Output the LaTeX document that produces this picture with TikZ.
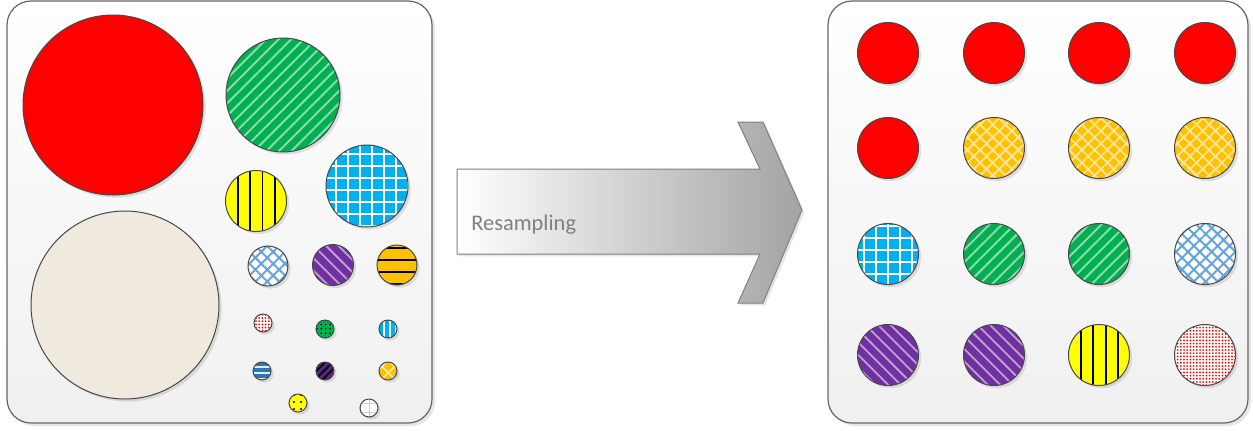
\documentclass[tikz,border=0pt]{standalone}
\usepackage{fontspec}
\usetikzlibrary{shadows,patterns.meta}
\newfontfamily\labelfont{Carlito}
\definecolor{rsred}{HTML}{FF0000}
\definecolor{rsbeige}{HTML}{EFEADD}
\definecolor{rsgreen}{HTML}{00B050}
\definecolor{rscyan}{HTML}{00B0F0}
\definecolor{rsyellow}{HTML}{FFFF00}
\definecolor{rspurple}{HTML}{7030A0}
\definecolor{rsorange}{HTML}{FFC000}
\definecolor{rsblue}{HTML}{2E75B6}
\definecolor{rshatch}{HTML}{3B8ED8}
\tikzset{
  ball/.style={circle,inner sep=0pt,minimum size=#1,draw=black!72,line width=.5pt,
    drop shadow={shadow xshift=1.3pt,shadow yshift=-1.3pt,opacity=.25,fill=black!45}},
  panel/.style={rounded corners=12pt,draw=black!60,line width=.6pt,top color=white,bottom color=black!6,
    drop shadow={shadow xshift=1.5pt,shadow yshift=-1.5pt,opacity=.2,fill=black!50}},
  redball/.style={fill=rsred},
  greenstripe/.style={preaction={fill=rsgreen},pattern={Lines[angle=45,distance=4.4pt,line width=1pt]},pattern color=rsgreen!45!white},
  cyangrid/.style={preaction={fill=rscyan},pattern={Hatch[distance=6pt,line width=.8pt]},pattern color=white},
  yellowbar/.style={preaction={fill=rsyellow},pattern={Lines[angle=90,distance=6.2pt,line width=.9pt,xshift=1pt]},pattern color=black},
  orangebar/.style={preaction={fill=rsorange},pattern={Lines[angle=0,distance=6pt,line width=.9pt,yshift=1pt]},pattern color=black},
  purplestripe/.style={preaction={fill=rspurple},pattern={Lines[angle=-45,distance=4.4pt,line width=.9pt]},pattern color=rspurple!45!white},
  bluehatch/.style={preaction={fill=white},pattern={Hatch[angle=45,distance=4.2pt,line width=1pt]},pattern color=rshatch!80!white},
  orangehatch/.style={preaction={fill=rsorange},pattern={Hatch[angle=45,distance=4.5pt,line width=.9pt]},pattern color=rsorange!40!white},
  pinkdots/.style={preaction={fill=white},pattern={Dots[radius=.5pt,distance=1.6pt]},pattern color=rsred},
  greendots/.style={preaction={fill=rsgreen},pattern={Dots[radius=.45pt,distance=2.2pt]},pattern color=black},
  cyanbar/.style={preaction={fill=rscyan},pattern={Lines[angle=90,distance=3pt,line width=.8pt]},pattern color=white},
  bluebar/.style={preaction={fill=rsblue},pattern={Lines[angle=0,distance=3pt,line width=.6pt,yshift=1.5pt]},pattern color=white!85!rsblue},
  darkstripe/.style={preaction={fill=rspurple!80!black},pattern={Lines[angle=45,distance=2.6pt,line width=.9pt]},pattern color=black},
  orangecross/.style={preaction={fill=rsorange},pattern={Hatch[angle=45,distance=4.5pt,line width=.8pt]},pattern color=rsorange!30!white},
  yellowdots/.style={preaction={fill=rsyellow},pattern={Dots[radius=.55pt,distance=3.5pt]},pattern color=black},
  whitegrid/.style={preaction={fill=white},pattern={Hatch[distance=4.5pt,line width=.4pt]},pattern color=black!18},
}

\begin{document}
\begin{tikzpicture}[x=.5pt,y=-.5pt]
\useasboundingbox (0,0) rectangle (1253,430);
% the two panels
\draw[panel] (7,1) rectangle (432,423);
\draw[panel] (828,1) rectangle (1248,423);
% unequal set on the left
\node[ball=90pt,redball] (bigred) at (113,105) {};
\node[ball=94pt,fill=rsbeige] (bigbeige) at (125,305) {};
\node[ball=57pt,greenstripe] (green) at (283,95) {};
\node[ball=41pt,cyangrid] (cyan) at (367,186) {};
\node[ball=30.5pt,yellowbar] (yellow) at (256,201) {};
\node[ball=20pt,bluehatch] (hatch) at (268,266) {};
\node[ball=20.5pt,purplestripe] (purple) at (333,265) {};
\node[ball=20pt,orangebar] (orange) at (397,265) {};
\node[ball=9pt,pinkdots] (tinypink) at (263,323) {};
\node[ball=9pt,greendots] (tinygreen) at (325,329) {};
\node[ball=9pt,cyanbar] (tinycyan) at (388,329) {};
\node[ball=9pt,bluebar] (tinyblue) at (262,371) {};
\node[ball=9pt,darkstripe] (tinypurple) at (325,371) {};
\node[ball=9pt,orangecross] (tinyorange) at (388,371) {};
\node[ball=9pt,yellowdots] (tinyyellow) at (298,403) {};
\node[ball=9pt,whitegrid] (tinywhite) at (369,408) {};
% arrow
\draw[draw=black!50,line width=.5pt,left color=white,right color=black!36,
  drop shadow={shadow xshift=1.2pt,shadow yshift=-1.2pt,opacity=.2,fill=black!50}]
  (457,169) -- (760,169) -- (738,122) -- (763,122) -- (802,210) -- (763,303) -- (738,303) -- (760,254) -- (457,254) -- cycle;
\node[anchor=west,inner sep=0pt,text=black!50,font=\labelfont\fontsize{11.2pt}{13pt}\selectfont] (resample) at (471,225) {Resampling};
% equal set on the right
\node[ball=30.5pt,redball] (r11) at (888,53) {};
\node[ball=30.5pt,redball] (r12) at (994,53) {};
\node[ball=30.5pt,redball] (r13) at (1099,53) {};
\node[ball=30.5pt,redball] (r14) at (1205,53) {};
\node[ball=30.5pt,redball] (r21) at (888,148) {};
\node[ball=30.5pt,orangehatch] (r22) at (994,148) {};
\node[ball=30.5pt,orangehatch] (r23) at (1099,148) {};
\node[ball=30.5pt,orangehatch] (r24) at (1205,148) {};
\node[ball=30.5pt,cyangrid] (r31) at (888,254) {};
\node[ball=30.5pt,greenstripe] (r32) at (994,254) {};
\node[ball=30.5pt,greenstripe] (r33) at (1099,254) {};
\node[ball=30.5pt,bluehatch] (r34) at (1205,254) {};
\node[ball=30.5pt,purplestripe] (r41) at (888,355) {};
\node[ball=30.5pt,purplestripe] (r42) at (994,355) {};
\node[ball=30.5pt,yellowbar] (r43) at (1099,355) {};
\node[ball=30.5pt,pinkdots] (r44) at (1205,355) {};
\end{tikzpicture}
\end{document}
